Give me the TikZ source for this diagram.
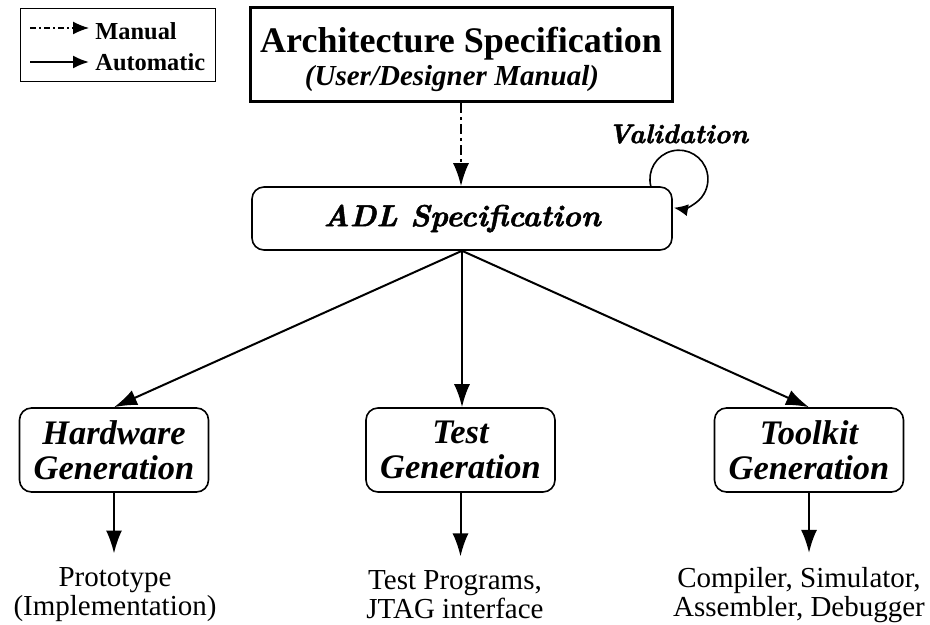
\documentclass[tikz,border=0pt]{standalone}
\usepackage{fontspec}
\setmainfont{Liberation Serif}
\newfontfamily\lmbi[Extension=.otf, FakeBold=1.6]{lmroman10-bolditalic}
\usetikzlibrary{arrows.meta}

\begin{document}
\begin{tikzpicture}[
    x=0.5pt, y=0.5pt,
    every node/.style={inner sep=0pt, align=center}
]

\tikzset{
  genbox/.style={draw, rounded corners=6pt, line width=0.8pt, minimum width=94.5pt, minimum height=42pt,
                 font=\fontsize{17.2}{17.5}\selectfont\bfseries\itshape},
  outtext/.style={font=\fontsize{14.5}{14.5}\selectfont},
  autoarrow/.style={line width=1pt, -{Latex[length=11.5pt, width=8pt]}},
  manualarrow/.style={autoarrow, dash pattern=on 5pt off 2pt on 1.5pt off 2pt}
}

\useasboundingbox (0,0) rectangle (930,-625);

% ================= legend =================

\node[draw, line width=0.5pt, minimum width=97.5pt, minimum height=36.5pt] (legend) at (117.5,-45.5) {};
\coordinate (m1) at (30,-28);
\coordinate (m2) at (89,-28);
\coordinate (a1) at (30,-62);
\coordinate (a2) at (89,-62);
\node[anchor=west, font=\fontsize{12.2}{14}\selectfont\bfseries] (lman) at (95,-31) {Manual};
\node[anchor=west, font=\fontsize{12.2}{14}\selectfont\bfseries] (laut) at (95,-62) {Automatic};

\draw[line width=0.7pt, -{Latex[length=8pt, width=6.5pt]}, dash pattern=on 3pt off 1.5pt on 1pt off 1.5pt] (m1) -- (m2);
\draw[line width=1pt, -{Latex[length=8pt, width=6.5pt]}] (a1) -- (a2);

% ================= specifications =================

\node[draw, line width=1.5pt, minimum width=211pt, minimum height=47pt, font=\fontsize{14.5}{17}\selectfont] (arch) at (461,-55)
  {{\fontsize{18}{19}\selectfont\bfseries\rule{0pt}{17pt}Architecture Specification}\\[-0.5pt]
   {\bfseries\itshape (User/Designer Manual)\hspace*{9pt}}};

\node[draw, rounded corners=6pt, line width=0.8pt, minimum width=210pt, minimum height=31.5pt,
      font=\lmbi\fontsize{15.2}{17}\selectfont] (adl) at (462,-218.5) {ADL Specification};

\node[font=\lmbi\fontsize{13.5}{15}\selectfont] (valid) at (678,-134) {Validation};

\draw[manualarrow] (arch.south) -- (arch.south |- adl.north);
\draw[line width=0.8pt, -{Latex[length=7pt, width=6pt]}] ([xshift=-11pt]adl.north east)
  arc[start angle=194, end angle=-100, radius=14.5pt];

% ================= generators =================

\node[genbox] (hw)   at (114,-450)   {Hardware\\Generation};
\node[genbox] (test) at (460.5,-450) {Test\\Generation};
\node[genbox] (tool) at (809,-450)   {Toolkit\\Generation};

\draw[autoarrow] (adl.south) -- (hw.north);
\draw[autoarrow] (adl.south) -- (adl.south |- test.north);
\draw[autoarrow] (adl.south) -- (tool.north);

% ================= results =================

\node[outtext] (proto) at (115,-595) {Prototype\\(Implementation)};
\node[outtext] (prog)  at (455,-595) {Test Programs,\\JTAG interface};
\node[outtext] (tools) at (799,-595) {Compiler, Simulator,\\Assembler, Debugger};

\draw[autoarrow, shorten >=7pt] (hw.south)   -- (hw.south |- proto.north);
\draw[autoarrow, shorten >=7pt] (test.south) -- (test.south |- prog.north);
\draw[autoarrow, shorten >=7pt] (tool.south) -- (tool.south |- tools.north);

\end{tikzpicture}
\end{document}
